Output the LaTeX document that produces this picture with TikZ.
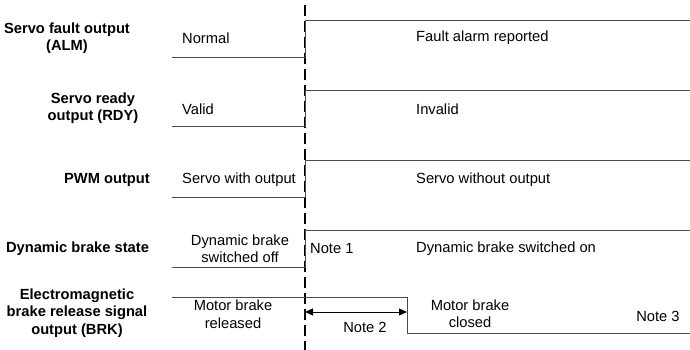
\documentclass[tikz,border=0pt]{standalone}
\usepackage{fontspec}
\setmainfont{Liberation Sans}
\usetikzlibrary{arrows.meta}
\begin{document}
\begin{tikzpicture}[x=1pt,y=-1pt,
  sig/.style={draw=black!70,line width=0.9pt},
  lbl/.style={font=\fontsize{14.7}{17.5}\selectfont\bfseries,align=center,inner sep=0pt},
  txt/.style={font=\fontsize{14.7}{17.5}\selectfont,align=center,inner sep=0pt},
  ltxt/.style={txt,anchor=west},
  dimarrow/.style={draw=black,line width=0.9pt,{Triangle[length=8pt,width=7pt]}-{Triangle[length=8pt,width=7pt]}}]
\useasboundingbox (0,0) rectangle (690,350);
% time marker
\coordinate (t0) at (305,5);
\coordinate (t1) at (305,350);
\draw[black,line width=1.2pt,dash pattern=on 11pt off 5pt] (t0) -- (t1);
% ALM
\coordinate (a0) at (172,57); \coordinate (a1) at (305,57); \coordinate (a2) at (305,20); \coordinate (a3) at (690,20);
\draw[sig] (a0) -- (a1) -- (a2) -- (a3);
\node[lbl] (la) at (67,38) {Servo fault output\\(ALM)};
\node[ltxt] (na) at (182,38) {Normal};
\node[ltxt] (fa) at (416,38) {Fault alarm reported};
% RDY
\coordinate (r0) at (172,126); \coordinate (r1) at (305,126); \coordinate (r2) at (305,90); \coordinate (r3) at (690,90);
\draw[sig] (r0) -- (r1) -- (r2) -- (r3);
\node[lbl] (lr) at (93,108) {Servo ready\\output (RDY)};
\node[ltxt] (vr) at (182,109) {Valid};
\node[ltxt] (ir) at (416,109) {Invalid};
% PWM
\coordinate (p0) at (172,197); \coordinate (p1) at (305,197); \coordinate (p2) at (305,160); \coordinate (p3) at (690,160);
\draw[sig] (p0) -- (p1) -- (p2) -- (p3);
\node[lbl,anchor=east] (lp) at (150,180) {PWM output};
\node[ltxt] (sp) at (182,180) {Servo with output};
\node[ltxt] (wp) at (416,180) {Servo without output};
% Dynamic brake
\coordinate (d0) at (172,267); \coordinate (d1) at (305,267); \coordinate (d2) at (305,230); \coordinate (d3) at (690,230);
\draw[sig] (d0) -- (d1) -- (d2) -- (d3);
\node[lbl] (ld) at (77.5,249) {Dynamic brake state};
\node[txt] (od) at (240,248.5) {Dynamic brake\\switched off};
\node[ltxt] (n1) at (310,249) {Note 1};
\node[ltxt] (ond) at (416,249) {Dynamic brake switched on};
% BRK
\coordinate (b0) at (172,297); \coordinate (b1) at (407,297); \coordinate (b2) at (407,333); \coordinate (b3) at (690,333);
\draw[sig] (b0) -- (b1) -- (b2) -- (b3);
\node[lbl] (lb) at (77,313) {Electromagnetic\\brake release signal\\output (BRK)};
\node[txt] (rb) at (233,314) {Motor brake\\released};
\node[txt] (cb) at (470,313.5) {Motor brake\\closed};
\node[txt] (n3) at (658,316) {Note 3};
\coordinate (m0) at (305,312); \coordinate (m1) at (407,312);
\draw[dimarrow] (m0) -- (m1);
\node[txt] (n2) at (365,327) {Note 2};
\end{tikzpicture}
\end{document}
